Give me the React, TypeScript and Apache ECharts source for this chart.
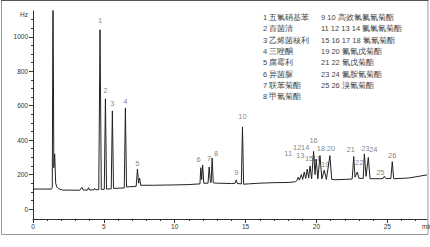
import React, { useEffect, useRef } from "react";
import * as echarts from "echarts";

// Numbered peaks: retention time (min) and response (Hz)
const peakNo = ["1","2","3","4","5","6","7","8","9","10","11","12","13","14","15","16","17","18","19","20","21","22","23","24","25","26"];
const peakTime = [4.73, 5.11, 5.6, 6.52, 7.37, 11.97, 12.43, 12.64, 14.34, 14.78, 18.71, 18.93, 19.14, 19.35, 19.55, 19.8, 19.98, 20.25, 20.55, 20.95, 22.63, 22.88, 23.38, 23.66, 24.79, 25.35];
const peakHeight = [1041, 640, 570, 587, 232, 256, 244, 296, 169, 477, 185, 200, 215, 232, 250, 335, 290, 310, 225, 310, 305, 215, 320, 300, 190, 275];

// Baseline, valleys, solvent front and unnumbered peaks of the trace (min, Hz)
const traceShape: [number, number][] = [
  [0, 116], [1.3, 116], [1.36, 125], [1.41, 1300], [1.47, 240], [1.53, 320], [1.6, 150], [1.68, 128],
  [1.8, 118], [2.1, 110], [3.3, 109], [3.45, 126], [3.55, 110], [3.85, 110], [3.92, 124], [4.0, 110],
  [4.3, 112], [4.35, 120], [4.42, 112], [4.64, 112], [4.82, 114], [5.03, 114], [5.19, 116], [5.52, 117],
  [5.68, 120], [6.44, 122], [6.6, 128], [7.28, 132], [7.45, 150], [7.52, 180], [7.6, 138], [8.5, 138],
  [10.0, 140], [11.0, 142], [11.78, 146], [11.84, 240], [11.9, 170], [12.05, 150], [12.35, 150],
  [12.52, 155], [12.57, 155], [12.72, 152], [13.0, 150], [14.0, 148], [14.26, 150], [14.42, 148],
  [14.7, 146], [14.86, 144], [15.2, 146], [16.0, 150], [17.0, 153], [18.0, 154], [18.5, 158],
  [18.62, 165], [18.8, 168], [19.03, 172], [19.24, 178], [19.45, 180], [19.66, 175], [19.9, 200],
  [20.1, 175], [20.38, 175], [20.7, 172], [21.08, 172], [21.3, 170], [22.0, 172], [22.52, 174],
  [22.72, 185], [23.0, 178], [23.3, 178], [23.5, 190], [23.78, 176], [24.5, 176], [24.7, 177],
  [24.9, 177], [25.25, 177], [25.45, 176], [26.5, 180], [27.8, 198],
];

// Axis ticks
const yTickValues = [0, 200, 400, 600, 800, 1000];
const yMinorValues = [50, 100, 150, 250, 300, 350, 450, 500, 550, 650, 700, 750, 850, 900, 950, 1050, 1100];
const xTickValues = [0, 5, 10, 15, 20, 25];
const xMinorValues = [1, 2, 3, 4, 6, 7, 8, 9, 11, 12, 13, 14, 16, 17, 18, 19, 21, 22, 23, 24, 26, 27];

// Compound key
const legendLeft = ["1 五氯硝基苯", "2 百菌清", "3 乙烯菌核利", "4 三唑酮", "5 腐霉利", "6 异菌脲", "7 联苯菊酯", "8 甲氰菊酯"];
const legendRight = ["9 10 高效氯氟氰菊酯", "11 12 13 14 氟氯氰菊酯", "15 16 17 18 氯氰菊酯", "19 20 氟氰戊菊酯", "21 22 氰戊菊酯", "23 24 氟胺氰菊酯", "25 26 溴氰菊酯"];

// Label nudges (px) so crowded peak numbers stay readable
const labelNudge: Record<string, [number, number]> = {
  "1": [0, -3], "2": [0, -2], "3": [0, -1], "6": [-4, 1], "7": [0, -3], "8": [4, 1], "9": [0, -1],
  "10": [0, -4], "11": [-10, -18], "12": [-4, -21], "13": [-4, -10], "14": [-2, -16], "15": [-1, -1],
  "16": [0, -5], "17": [0, 5], "18": [1, -1], "19": [1, 0], "20": [1, -1], "21": [-3, -1],
  "22": [2, -3], "23": [1, 1], "24": [5, -2], "25": [-4, 2],
};

const FONT = "'Liberation Sans', Arial, sans-serif";
const CJK = "'Liberation Sans', 'Noto Sans CJK SC', sans-serif";

export default function App() {
  const ref = useRef<HTMLDivElement>(null);

  useEffect(() => {
    if (!ref.current) return;
    const chart = echarts.init(ref.current, null, { renderer: "svg" });

    const apexes: [number, number][] = peakTime.map((t, i) => [t, peakHeight[i]]);
    const trace = [...traceShape, ...apexes].sort((a, b) => a[0] - b[0]);

    const labelData = peakNo.map((n, i) => ({
      value: [peakTime[i], peakHeight[i]],
      name: n,
      label: { offset: labelNudge[n] || [0, 0] },
    }));

    const axisColor = "#333";
    const yBase = { type: "value", min: -58, max: 1150, position: "left", splitLine: { show: false } };
    const xBase = { type: "value", min: 0, max: 27.8, position: "bottom", splitLine: { show: false } };

    const legendTexts: any[] = [];
    legendLeft.forEach((s, i) =>
      legendTexts.push({
        type: "text", x: 263, y: 17.5 + i * 11.3,
        style: { text: s, fontSize: 7.5, fill: "#444", font: `7.5px ${CJK}`, verticalAlign: "middle" },
      })
    );
    legendRight.forEach((s, i) =>
      legendTexts.push({
        type: "text", x: 321, y: 17.5 + i * 11.3,
        style: { text: s, fontSize: 7.5, fill: "#444", font: `7.5px ${CJK}`, verticalAlign: "middle" },
      })
    );

    chart.setOption({
      animation: false,
      grid: { left: 33, top: 11, width: 394, height: 208 },
      xAxis: [
        {
          ...xBase,
          axisLine: { onZero: false, lineStyle: { color: axisColor, width: 1 } },
          axisTick: { customValues: xTickValues, length: 4, lineStyle: { color: axisColor } },
          axisLabel: {
            customValues: xTickValues, fontSize: 6.5, color: "#333", fontFamily: FONT, margin: 4,
            formatter: (v: number) => String(v),
          },
        },
        {
          ...xBase,
          axisLine: { show: false, onZero: false },
          axisTick: { customValues: xMinorValues, length: 2, lineStyle: { color: axisColor } },
          axisLabel: { show: false },
        },
      ],
      yAxis: [
        {
          ...yBase,
          axisLine: { show: true, onZero: false, lineStyle: { color: axisColor, width: 1 } },
          axisTick: { show: true, customValues: yTickValues, length: 4, lineStyle: { color: axisColor } },
          axisLabel: {
            customValues: yTickValues, fontSize: 6.5, color: "#333", fontFamily: FONT, margin: 5,
            formatter: (v: number) => String(v),
          },
        },
        {
          ...yBase,
          axisLine: { show: false, onZero: false },
          axisTick: { show: true, customValues: yMinorValues, length: 2, lineStyle: { color: axisColor } },
          axisLabel: { show: false },
        },
      ],
      series: [
        {
          type: "line",
          data: trace,
          xAxisIndex: 0,
          yAxisIndex: 0,
          showSymbol: false,
          clip: true,
          lineStyle: { color: "#222", width: 1 },
        },
        {
          type: "scatter",
          data: labelData,
          xAxisIndex: 0,
          yAxisIndex: 0,
          symbolSize: 0,
          silent: true,
          label: {
            show: true,
            position: "top",
            distance: 2,
            formatter: (p: any) => p.name,
            fontSize: 7.5,
            color: "#666",
            fontFamily: FONT,
          },
        },
      ],
      graphic: [
        {
          type: "rect",
          shape: { x: 1.5, y: 0.5, width: 426.5, height: 234 },
          style: { fill: "none", stroke: "#999", lineWidth: 1 },
        },
        {
          type: "line",
          shape: { x1: 1, y1: 0.5, x2: 428.5, y2: 0.5 },
          style: { stroke: "#555", lineWidth: 1 },
        },
        {
          type: "text", x: 28, y: 14,
          style: { text: "Hz", fontSize: 6.5, fill: "#333", font: `6.5px ${FONT}`, align: "right", verticalAlign: "middle" },
        },
        {
          type: "text", x: 422, y: 226,
          style: { text: "min", fontSize: 6.5, fill: "#333", font: `6.5px ${FONT}`, verticalAlign: "middle" },
        },
        ...legendTexts,
      ],
    });

    return () => chart.dispose();
  }, []);

  return (
    <div
      ref={ref}
      style={{ position: "fixed", left: 0, top: 0, width: 430, height: 247, background: "#fff" }}
    />
  );
}
